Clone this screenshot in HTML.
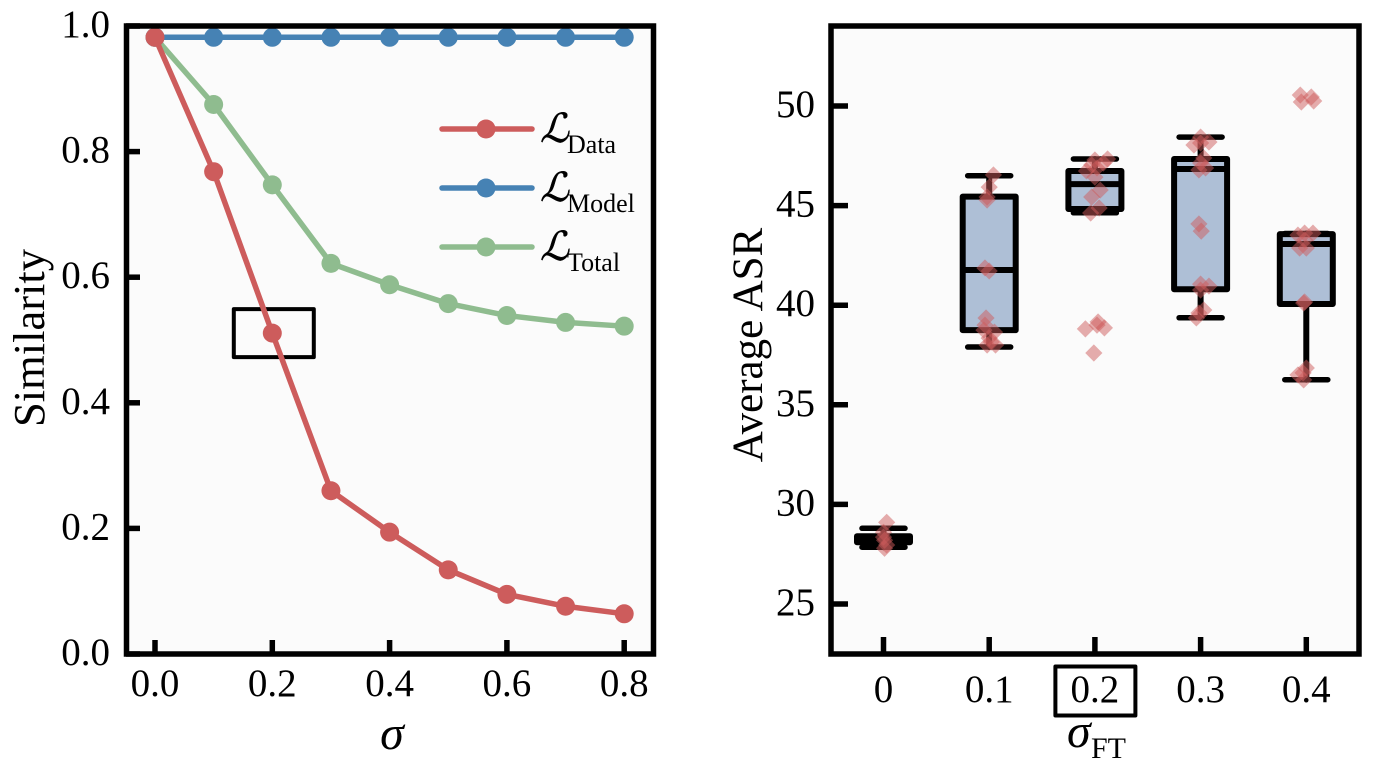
<!DOCTYPE html>
<html lang="en">
<head>
<meta charset="utf-8">
<title>Similarity and Average ASR charts</title>
<style>
html,body{margin:0;padding:0;background:#fff;}
#figure{display:block;width:1392px;height:762px;}
text{font-family:"Liberation Serif","DejaVu Serif",serif;fill:#000;}
</style>
</head>
<body>
<svg id="figure" xmlns="http://www.w3.org/2000/svg" width="1392" height="762" viewBox="0 0 1392 762"></svg>
<script>
// ---------- left chart data ----------
const sigmaValues = [0, 0.1, 0.2, 0.3, 0.4, 0.5, 0.6, 0.7, 0.8];
const dataSimilarity = [0.982, 0.768, 0.511, 0.26, 0.194, 0.134, 0.095, 0.076, 0.064];
const modelSimilarity = [0.982, 0.982, 0.982, 0.982, 0.982, 0.982, 0.982, 0.982, 0.982];
const totalSimilarity = [0.982, 0.875, 0.747, 0.622, 0.588, 0.558, 0.539, 0.528, 0.522];
const leftXTicks = [0, 0.2, 0.4, 0.6, 0.8];
const leftXTickLabels = ['0.0', '0.2', '0.4', '0.6', '0.8'];
const leftYTicks = [0, 0.2, 0.4, 0.6, 0.8, 1];
const leftYTickLabels = ['0.0', '0.2', '0.4', '0.6', '0.8', '1.0'];
const highlightSigma = [0.2];
const highlightSimilarity = [0.511];

// ---------- right chart data ----------
const ftCategories = ['0', '0.1', '0.2', '0.3', '0.4'];
const whiskerLow = [27.85, 37.9, 44.64, 39.37, 36.26];
const boxQ1 = [28.1, 38.75, 44.83, 40.8, 40.06];
const boxMedian = [28.25, 41.77, 46.08, 46.84, 43.07];
const boxQ3 = [28.4, 45.45, 46.74, 47.34, 43.57];
const whiskerHigh = [28.8, 46.5, 47.34, 48.44, 43.6];
const rightYTicks = [25, 30, 35, 40, 45, 50];
const rightYTickLabels = ['25', '30', '35', '40', '45', '50'];
const asrPoints0 = [29.1, 28.6, 27.8, 27.96, 28.36, 28.2];
const jitter0 = [0.03, 0, 0.01, 0.03, 0, 0.01];
const asrPoints1 = [46.54, 45.93, 45.43, 45.28, 41.87, 41.72, 39.36, 39.0, 38.75, 38.65, 38.35, 38.0, 38.0, 38.15];
const jitter1 = [0.04, 0, -0.02, -0.02, -0.04, 0, -0.03, -0.04, -0.05, 0.05, 0, -0.02, 0.06, 0.02];
const asrPoints2 = [47.29, 47.34, 47.14, 47.04, 46.74, 46.89, 46.43, 45.78, 45.43, 44.88, 44.63, 38.81, 39.16, 38.86, 39.0, 37.6];
const jitter2 = [0, 0.12, 0.08, -0.03, -0.08, 0.02, 0, 0.05, -0.03, 0.04, -0.04, -0.09, 0.03, 0.09, 0.02, -0.01];
const asrPoints3 = [48.44, 48.04, 48.19, 48.14, 47.39, 47.14, 46.79, 46.89, 44.08, 43.72, 41.06, 40.96, 40.76, 39.76, 39.61, 39.36];
const jitter3 = [0, -0.063, 0.079, 0, 0.03, 0, -0.016, 0.047, -0.016, 0.006, 0, 0.079, 0, 0.03, -0.016, -0.04];
const asrPoints4 = [50.55, 50.2, 50.45, 50.25, 43.52, 43.62, 43.62, 43.27, 42.87, 42.87, 40.11, 40.16, 36.85, 36.5, 36.25, 36.6];
const jitter4 = [-0.057, -0.047, 0.047, 0.07, -0.079, -0.016, 0.063, -0.016, -0.063, 0, -0.025, -0.016, 0, -0.079, -0.025, -0.03];
const asrPoints = [asrPoints0, asrPoints1, asrPoints2, asrPoints3, asrPoints4];
const asrJitter = [jitter0, jitter1, jitter2, jitter3, jitter4];

// ---------- helpers ----------
const svg = document.getElementById('figure');
const NS = 'http://www.w3.org/2000/svg';
function el(tag, props, parent, content) {
  const node = document.createElementNS(NS, tag);
  for (const k in props) node.setAttribute(k, props[k]);
  if (content !== undefined) node.textContent = content;
  (parent || svg).appendChild(node);
  return node;
}
function sub(textNode, str, props) {
  const t = document.createElementNS(NS, 'tspan');
  for (const k in props) t.setAttribute(k, props[k]);
  t.textContent = str;
  textNode.appendChild(t);
  return t;
}

// ---------- axis functions ----------
const lx = v => 155 + v * 586.5;
const ly = v => 654 - v * 628;
const rx = i => 883.5 + i * 105.7;
const ry = v => 604 - (v - 25) * 19.92;

const RED = '#cd5c5c', BLUE = '#4682b4', GREEN = '#8fbc8f';
let n;

// ---------- left chart ----------
n = el('rect', {x: 126, y: 26, width: 527, height: 628, fill: '#fbfbfb'});



const highlightBox = el('rect', {
  x: lx(highlightSigma[0]) - 38.5, y: ly(highlightSimilarity[0]) - 24, width: 80, height: 48,
  fill: 'none', stroke: '#000', 'stroke-width': 4, 'stroke-linejoin': 'round'
});



function drawSeries(values, color, name) {
  const g = el('g', {});
  
  
  const pts = values.map((v, i) => lx(sigmaValues[i]) + ',' + ly(v)).join(' ');
  el('polyline', {points: pts, fill: 'none', stroke: color, 'stroke-width': 5.5, 'stroke-linejoin': 'round'}, g);
  values.forEach((v, i) => {
    el('circle', {cx: lx(sigmaValues[i]), cy: ly(v), r: 9.5, fill: color}, g);
  });
}
drawSeries(totalSimilarity, GREEN, 'series-total');
drawSeries(modelSimilarity, BLUE, 'series-model');
drawSeries(dataSimilarity, RED, 'series-data');

const leftTicks = el('g', {stroke: '#000', 'stroke-width': 5.5});


leftXTicks.forEach(v => el('line', {x1: lx(v), x2: lx(v), y1: 654, y2: 640}, leftTicks));
leftYTicks.forEach(v => el('line', {x1: 126, x2: 140, y1: ly(v), y2: ly(v)}, leftTicks));

n = el('rect', {x: 126.5, y: 26, width: 527, height: 628, fill: 'none', stroke: '#000', 'stroke-width': 5.5});



leftXTicks.forEach((v, i) => {
  const t = el('text', {x: lx(v), y: 696, 'font-size': 39, 'text-anchor': 'middle'}, svg, leftXTickLabels[i]);
  
  
});
leftYTicks.forEach((v, i) => {
  const t = el('text', {x: 110, y: ly(v) + 11, 'font-size': 39, 'text-anchor': 'end'}, svg, leftYTickLabels[i]);
  
  
});

n = el('text', {x: 392, y: 749, 'font-size': 48, 'font-style': 'italic', 'text-anchor': 'middle'}, svg, 'σ');



n = el('text', {transform: 'translate(44,338) rotate(-90)', 'font-size': 44.5, 'text-anchor': 'middle'}, svg, 'Similarity');



// legend
const legendLabels = ['Data', 'Model', 'Total'];
const legendColors = [RED, BLUE, GREEN];
const legend = el('g', {});


legendLabels.forEach((lab, i) => {
  const y = 129 + i * 59;
  const entry = el('g', {}, legend);
  
  
  el('line', {x1: 442, x2: 532, y1: y, y2: y, stroke: legendColors[i], 'stroke-width': 5.5, 'stroke-linecap': 'round'}, entry);
  el('circle', {cx: 486, cy: y, r: 9.5, fill: legendColors[i]}, entry);
  el('text', {x: 540, y: y + 13, 'font-size': 40, 'font-family': '"DejaVu Serif","DejaVu Sans",serif', 'font-style': 'italic', stroke: '#000', 'stroke-width': 0.5}, entry, 'ℒ');
  el('text', {x: 567, y: y + 24, 'font-size': 26}, entry, lab);
});

// ---------- right chart ----------
n = el('rect', {x: 831, y: 26, width: 528, height: 628, fill: '#fbfbfb'});



ftCategories.forEach((c, i) => {
  const cx = rx(i);
  const g = el('g', {stroke: '#000', 'stroke-linecap': 'round'});
  
  
  el('line', {x1: cx, x2: cx, y1: ry(whiskerHigh[i]), y2: ry(boxQ3[i]), 'stroke-width': 6}, g);
  el('line', {x1: cx, x2: cx, y1: ry(boxQ1[i]), y2: ry(whiskerLow[i]), 'stroke-width': 6}, g);
  el('line', {x1: cx - 21.5, x2: cx + 21.5, y1: ry(whiskerHigh[i]), y2: ry(whiskerHigh[i]), 'stroke-width': 5.5}, g);
  el('line', {x1: cx - 21.5, x2: cx + 21.5, y1: ry(whiskerLow[i]), y2: ry(whiskerLow[i]), 'stroke-width': 5.5}, g);
  el('rect', {x: cx - 26.5, y: ry(boxQ3[i]), width: 53, height: ry(boxQ1[i]) - ry(boxQ3[i]),
    fill: '#aebfd6', stroke: '#000', 'stroke-width': 6, 'stroke-linejoin': 'round'}, g);
  el('line', {x1: cx - 26.5, x2: cx + 26.5, y1: ry(boxMedian[i]), y2: ry(boxMedian[i]), 'stroke-width': 6, 'stroke-linecap': 'butt'}, g);
});

ftCategories.forEach((c, i) => {
  const g = el('g', {fill: RED, 'fill-opacity': 0.5});
  
  
  asrPoints[i].forEach((v, j) => {
    const x = rx(i + asrJitter[i][j]);
    const y = ry(v);
    const s = 8.6;
    el('path', {d: 'M' + x + ' ' + (y - s) + 'L' + (x + s) + ' ' + y + 'L' + x + ' ' + (y + s) + 'L' + (x - s) + ' ' + y + 'Z'}, g);
  });
});

const rightTicks = el('g', {stroke: '#000', 'stroke-width': 5.5});


ftCategories.forEach((c, i) => el('line', {x1: rx(i), x2: rx(i), y1: 654, y2: 637}, rightTicks));
rightYTicks.forEach(v => el('line', {x1: 831, x2: 848, y1: ry(v), y2: ry(v)}, rightTicks));

n = el('rect', {x: 831, y: 26, width: 528, height: 628, fill: 'none', stroke: '#000', 'stroke-width': 5.5});



ftCategories.forEach((c, i) => {
  const t = el('text', {x: rx(i), y: 702, 'font-size': 39, 'text-anchor': 'middle'}, svg, c);
  
  
});
rightYTicks.forEach((v, i) => {
  const t = el('text', {x: 815, y: ry(v) + 11, 'font-size': 39, 'text-anchor': 'end'}, svg, rightYTickLabels[i]);
  
  
});

n = el('rect', {x: rx(2) - 39.5, y: 666.5, width: 80, height: 49, fill: 'none', stroke: '#000', 'stroke-width': 4, 'stroke-linejoin': 'round'});



const ftTitle = el('text', {x: 1067, y: 747, 'font-size': 48}, svg);


sub(ftTitle, 'σ', {'font-style': 'italic'});
sub(ftTitle, 'FT', {'font-size': 30, dy: 11, x: 1091});

n = el('text', {transform: 'translate(762,345) rotate(-90)', 'font-size': 43, 'text-anchor': 'middle'}, svg, 'Average ASR');


</script>
</body>
</html>
